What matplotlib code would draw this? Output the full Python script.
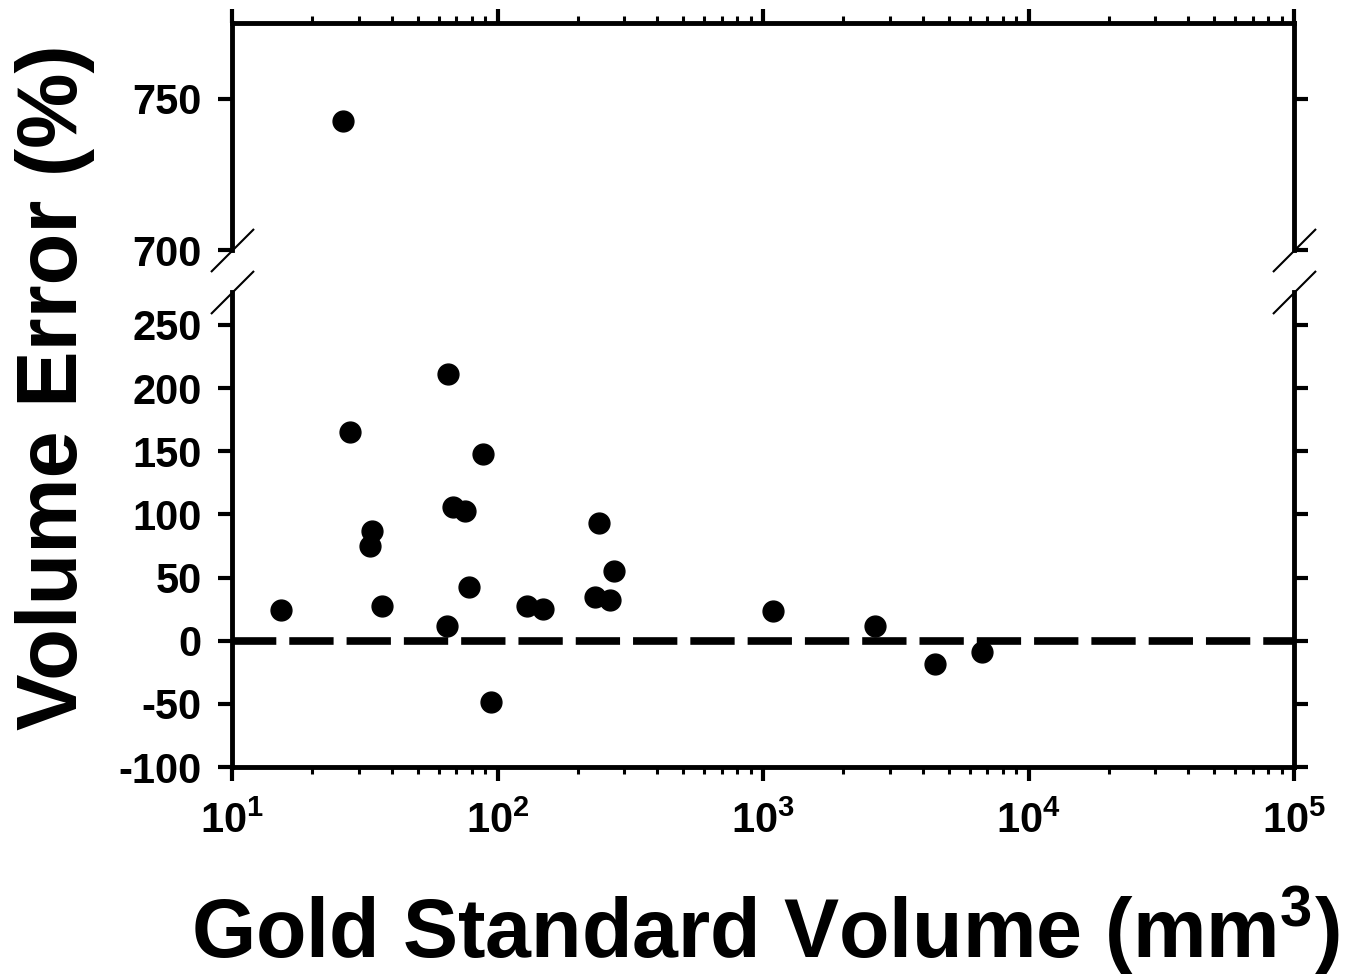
import numpy as np
import matplotlib
matplotlib.use('Agg')
import matplotlib.pyplot as plt
from matplotlib.ticker import LogLocator, FuncFormatter, NullFormatter, FixedLocator

plt.rcParams['font.family'] = ['Liberation Sans', 'DejaVu Sans']
plt.rcParams['font.weight'] = 'bold'
plt.rcParams['axes.unicode_minus'] = False
plt.rcParams['mathtext.fontset'] = 'custom'
plt.rcParams['mathtext.rm'] = 'Liberation Sans:bold'
plt.rcParams['mathtext.bf'] = 'Liberation Sans:bold'
plt.rcParams['mathtext.it'] = 'Liberation Sans:bold'

# valores
gold_volume = [15.3, 26.2, 27.7, 33.1, 33.7, 36.6, 64.4, 65.3, 68.2, 75.5, 78.2, 88.5,
               94.2, 129.4, 148.6, 232.8, 241.5, 265.5, 274.7, 1087, 2643, 4446, 6669]
volume_error = [24.3, 742.7, 165, 74.7, 86.5, 27.2, 11.9, 211, 106, 103, 42.2, 148,
                -48.3, 27.2, 25.1, 34.3, 93, 32.2, 55.4, 23.8, 11.9, -18.5, -9.2]

top_ticks = [700, 750]
bottom_ticks = [-100, -50, 0, 50, 100, 150, 200, 250]

fig = plt.figure(figsize=(13.5, 9.77), dpi=100)
ax_top = fig.add_axes([0.1719, 0.7441, 0.7867, 0.2324])
ax_bot = fig.add_axes([0.1719, 0.2149, 0.7867, 0.4862])

for ax in (ax_top, ax_bot):
    ax.plot(gold_volume, volume_error, 'o', color='k', markersize=15, clip_on=True)
    ax.set_xscale('log')
    ax.set_xlim(10, 1e5)
    for s in ax.spines.values():
        s.set_linewidth(3.5)
    ax.xaxis.set_major_locator(LogLocator(base=10, numticks=10))
    ax.xaxis.set_minor_locator(LogLocator(base=10, subs=np.arange(2, 10), numticks=100))
    ax.xaxis.set_minor_formatter(NullFormatter())
    ax.tick_params(axis='both', which='major', direction='out', length=10, width=3,
                   labelsize=30, pad=12)
    ax.tick_params(axis='both', which='minor', direction='out', length=5, width=2.2)
    ax.tick_params(axis='y', left=True, right=True)

ax_top.set_ylim(700, 775)
ax_top.yaxis.set_major_locator(FixedLocator(top_ticks))
ax_top.spines['bottom'].set_visible(False)
ax_top.xaxis.tick_top()
ax_top.tick_params(axis='x', which='both', labeltop=False)
ax_top.tick_params(axis='y', right=True)

ax_bot.set_ylim(-100, 276)
ax_bot.yaxis.set_major_locator(FixedLocator(bottom_ticks))
ax_bot.spines['top'].set_visible(False)
ax_bot.xaxis.tick_bottom()
ax_bot.tick_params(axis='x', which='major', pad=15)
ax_bot.tick_params(axis='y', right=True)
ax_bot.xaxis.set_major_formatter(FuncFormatter(lambda v, p: r'$10^{%d}$' % round(np.log10(v))))

ax_bot.axhline(0, color='k', lw=5.5, dashes=(5.8, 1.7), dash_capstyle='butt', zorder=1)

# marcas de corte del eje
brk = dict(marker=[(-1, -1), (1, 1)], markersize=31, linestyle='none',
           color='k', mec='k', mew=1.5, clip_on=False)
ax_top.plot([0, 1], [0, 0], transform=ax_top.transAxes, **brk)
ax_bot.plot([0, 1], [1, 1], transform=ax_bot.transAxes, **brk)

fig.text(55 / 1350, 1 - 387 / 977, 'Volume Error (%)', rotation=90, fontsize=61,
         fontweight='bold', ha='center', va='center')
fig.text(765 / 1350, 1 - 958 / 977, r'Gold Standard Volume (mm$^{3}$)', fontsize=59.5,
         fontweight='bold', ha='center', va='baseline')

fig.savefig('out.png', dpi=100)
